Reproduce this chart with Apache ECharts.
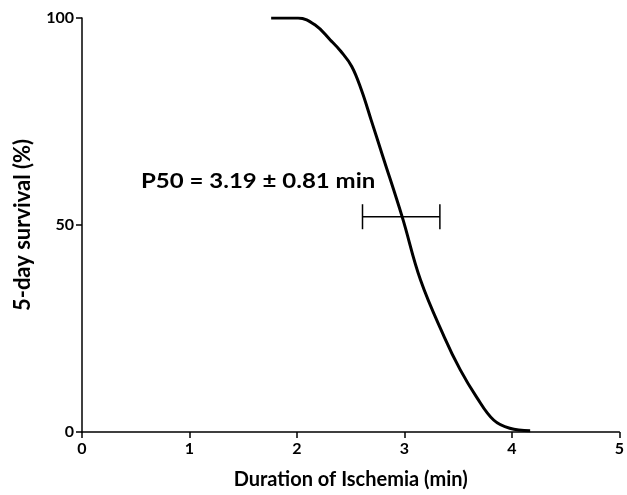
<!DOCTYPE html>
<html>
<head>
<meta charset="utf-8">
<script src="https://cdn.jsdelivr.net/npm/echarts@6/dist/echarts.min.js"></script>
<style>
  html, body { margin: 0; padding: 0; background: #fff; }
  #chart { width: 627px; height: 495px; }
</style>
</head>
<body>
<div id="chart"></div>
<script>
// corba de supervivencia llegida de la figura
const duracio = [1.76, 2.01, 2.17, 2.31, 2.41, 2.51, 2.60, 2.69, 2.80, 2.98, 3.15, 3.37, 3.52, 3.67, 3.83, 3.98, 4.17];
const supervivencia = [100, 100, 98.3, 94.7, 91.9, 88.3, 82.6, 75.4, 66.5, 51.9, 36.7, 23.0, 15.0, 8.5, 2.9, 0.9, 0.3];

// barra d'error: [inici, final, y]
const barraError = [2.61, 3.33, 52];

const titolX = 'Duration of Ischemia (min)';
const titolY = '5-day survival (%)';
const anotacio = 'P50 = 3.19 \u00b1 0.81 min';

const FONT = 'Lato, "Open Sans", sans-serif';

const chart = echarts.init(document.getElementById('chart'), null, { renderer: 'canvas' });

const option = {
  backgroundColor: '#fff',
  animation: false,
  grid: { left: 82, right: 4, top: 18, bottom: 63 },
  xAxis: {
    type: 'value',
    min: 0,
    max: 5,
    interval: 1,
    name: titolX,
    nameLocation: 'middle',
    nameGap: 38,
    nameTextStyle: { fontFamily: FONT, fontWeight: 'bold', fontSize: 20, color: '#000' },
    axisLine: { onZero: false, lineStyle: { color: '#000', width: 1.5 } },
    axisTick: { length: 6, lineStyle: { color: '#000', width: 1.5 } },
    axisLabel: { fontFamily: FONT, fontWeight: 'bold', fontSize: 16, color: '#000', margin: 9 },
    splitLine: { show: false }
  },
  yAxis: {
    type: 'value',
    min: 0,
    max: 100,
    interval: 50,
    name: titolY,
    nameLocation: 'middle',
    nameGap: 48,
    nameTextStyle: { fontFamily: FONT, fontWeight: 'bold', fontSize: 22, color: '#000' },
    axisLine: { show: true, lineStyle: { color: '#000', width: 1.5 } },
    axisTick: { show: true, length: 6, lineStyle: { color: '#000', width: 1.5 } },
    axisLabel: { fontFamily: FONT, fontWeight: 'bold', fontSize: 16, color: '#000', margin: 8 },
    splitLine: { show: false }
  },
  series: [
    {
      type: 'line',
      data: duracio.map((x, i) => [x, supervivencia[i]]),
      smooth: 0.4,
      showSymbol: false,
      lineStyle: { color: '#000', width: 3 },
      z: 3
    },
    {
      type: 'custom',
      data: [barraError],
      renderItem: (params, api) => {
        const esq = api.coord([api.value(0), api.value(2)]);
        const dre = api.coord([api.value(1), api.value(2)]);
        const h = 12.5;
        const estil = { stroke: '#000', lineWidth: 1.5 };
        return {
          type: 'group',
          children: [
            { type: 'line', shape: { x1: esq[0], y1: esq[1], x2: dre[0], y2: dre[1] }, style: estil },
            { type: 'line', shape: { x1: esq[0], y1: esq[1] - h, x2: esq[0], y2: esq[1] + h }, style: estil },
            { type: 'line', shape: { x1: dre[0], y1: dre[1] - h, x2: dre[0], y2: dre[1] + h }, style: estil }
          ]
        };
      },
      z: 2
    }
  ],
  graphic: [
    {
      type: 'text',
      left: 141,
      top: 172,
      scaleX: 1.2,
      style: { text: anotacio, fontFamily: FONT, fontWeight: 'bold', fontSize: 20, fill: '#000' }
    }
  ]
};

chart.setOption(option);
</script>
</body>
</html>
